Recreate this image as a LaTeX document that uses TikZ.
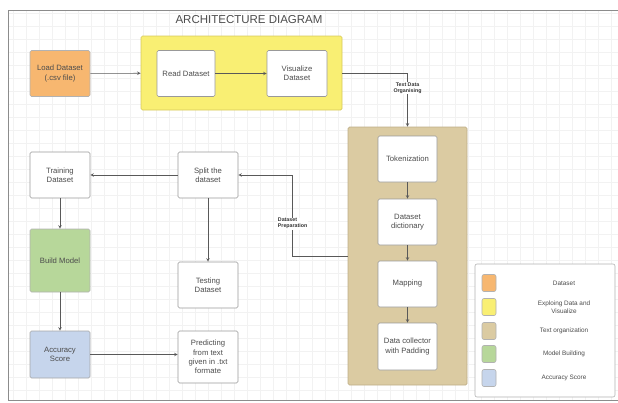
\documentclass[tikz,border=0pt]{standalone}
\usepackage{fontspec}
\setmainfont{Liberation Sans}

\definecolor{dsorange}{RGB}{247,183,112}
\definecolor{explyellow}{RGB}{249,239,115}
\definecolor{explborder}{RGB}{214,200,92}
\definecolor{orgtan}{RGB}{219,203,162}
\definecolor{orgborder}{RGB}{190,174,136}
\definecolor{modgreen}{RGB}{183,215,154}
\definecolor{accblue}{RGB}{198,213,236}

\tikzset{
  box/.style={draw=black!40, fill=white, rounded corners=1.5pt, minimum width=60pt, minimum height=46pt,
    align=center, inner sep=1pt, font=\fontsize{7.7}{9.4}\selectfont, text=black!70},
  group/.style={rounded corners=1.5pt, line width=0.7pt},
  arr/.style={-stealth, draw=black!65},
  lbl/.style={fill=white, inner sep=0.5pt, align=center, font=\fontsize{5.3}{6.2}\selectfont\bfseries, text=black!80},
  swatch/.style={draw=black!30, rounded corners=2pt, minimum width=14pt, minimum height=17pt, inner sep=0pt},
  legtext/.style={align=center, font=\fontsize{6.4}{7.8}\selectfont, text=black!70}
}

\begin{document}
\begin{tikzpicture}[x=1pt, y=-1pt, line width=0.6pt]
        \useasboundingbox (0,0) rectangle (618,402);
        \draw[xstep=13pt, ystep=13pt, black!5, line width=0.25pt] (8,400) grid (618,10);
        \draw[black!45] (618,10) -- (8,10) -- (8,400) -- (618,400);

        \node[font=\fontsize{11.5}{13}\selectfont, text=black!70] (title) at (249,20) {ARCHITECTURE DIAGRAM};

        % groups
        \node[group, draw=explborder, fill=explyellow, minimum width=201pt, minimum height=74pt] (expl) at (241.5,73) {};
        \node[group, draw=orgborder, fill=orgtan, minimum width=119pt, minimum height=258pt] (org) at (407.5,256) {};

        % dataset
        \node[box, fill=dsorange, draw=black!30] (load) at (60,73.5) {Load Dataset\\(.csv file)};
        \node[box, minimum width=58pt] (read) at (186,73.5) {Read Dataset};
        \node[box] (vis) at (297,73.5) {Visualize\\Dataset};

        % text organization
        \node[box, minimum width=59pt] (tok) at (407.5,159) {Tokenization};
        \node[box, minimum width=59pt] (dict) at (407.5,222) {Dataset\\dictionary};
        \node[box, minimum width=59pt] (map) at (407.5,284) {Mapping};
        \node[box, minimum width=59pt, minimum height=47pt] (pad) at (407.5,346.5) {Data collector\\with Padding};

        % model
        \node[box] (split) at (208,175) {Split the\\dataset};
        \node[box] (train) at (60,175) {Training\\Dataset};
        \node[box] (test) at (208,285) {Testing\\Dataset};
        \node[box, fill=modgreen, draw=black!30, minimum height=63pt] (build) at (60,260.5) {Build Model};
        \node[box, fill=accblue, draw=black!35, minimum height=47pt] (acc) at (60,354.5) {Accuracy\\Score};
        \node[box, minimum height=52pt] (pred) at (208,357) {Predicting\\from text\\given in .txt\\formate};

        \draw[arr] (load) -- (expl);
        \draw[arr] (read) -- (vis);
        \draw[arr] (expl.east) -| node[lbl, pos=0.64] {Text Data\\Organising} (org.north);

        \draw[arr] (tok) -- (dict);
        \draw[arr] (dict) -- (map);
        \draw[arr] (map) -- (pad);

        \draw[arr] (org.west) -- ++(-55,0) |- node[lbl, align=left, pos=0.2] {Dataset\\Preparation} (split.east);

        \draw[arr] (split) -- (train);
        \draw[arr] (split) -- (test);
        \draw[arr] (train) -- (build);
        \draw[arr] (build) -- (acc);
        \draw[arr] (acc.east) -- (acc.east -| pred.west);

        % legend
        \node[draw=black!30, fill=white, rounded corners=2pt, minimum width=140pt, minimum height=133pt] (legend) at (545,330.5) {};
        \foreach \y/\c/\t [count=\i] in {283/dsorange/Dataset, 307/explyellow/{Exploing Data and\\Visualize}, 331/orgtan/Text organization, 354/modgreen/Model Building, 378/accblue/Accuracy Score} {
            \node[swatch, fill=\c] (sw\i) at (489,\y) {};
            \node[legtext] (lt\i) at (564,\y) {\t};
        }
\end{tikzpicture}
\end{document}
